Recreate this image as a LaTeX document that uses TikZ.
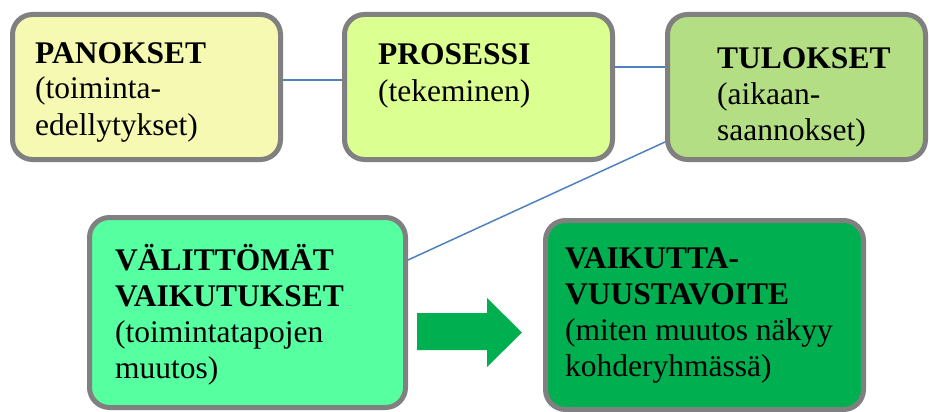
\documentclass[tikz,border=0pt]{standalone}
\usepackage{fontspec}
\setmainfont{Liberation Serif}
\usetikzlibrary{positioning}

\definecolor{boxgray}{RGB}{128,128,128}
\definecolor{linkblue}{RGB}{79,129,189}
\definecolor{panokfill}{RGB}{245,249,177}
\definecolor{prosfill}{RGB}{220,255,146}
\definecolor{tulosfill}{RGB}{180,222,132}
\definecolor{valitfill}{RGB}{86,255,160}
\definecolor{tavoitefill}{RGB}{0,176,80}

\begin{document}
\begin{tikzpicture}[
      x=1pt, y=-1pt,
      box/.style={draw=boxgray, line width=5pt, outer sep=2.5pt, inner sep=0pt, rounded corners=20pt, minimum width=268pt, minimum height=145pt},
      txt/.style={anchor=base west, align=left, inner sep=0pt, font=\fontsize{31.5}{36}\selectfont},
      link/.style={draw=linkblue, line width=1.5pt}
    ]
      \useasboundingbox (0,0) rectangle (929,412);
      \node[box, fill=panokfill, anchor=north west] (panokset) at (10,12) {};
      \node[box, fill=prosfill, right=59pt of panokset] (prosessi) {};
      \node[box, fill=tulosfill, right=50pt of prosessi, minimum width=258pt] (tulokset) {};
      \node[box, fill=valitfill, anchor=north west, minimum width=316pt, minimum height=190pt] (valittomat) at (87,215) {};
      \node[box, fill=tavoitefill, anchor=north west, minimum width=318pt, minimum height=189pt] (tavoite) at (543,218) {};
      % base anchor sits on the last line
      \node[txt] (panokset-t) at ([shift={(25,123)}]panokset.north west) {\textbf{PANOKSET}\\(toiminta-\\edellytykset)};
      \node[txt] (prosessi-t) at ([shift={(36,89)}]prosessi.north west) {\textbf{PROSESSI}\\(tekeminen)};
      \node[txt] (tulokset-t) at ([shift={(52,128)}]tulokset.north west) {\textbf{TULOKSET}\\(aikaan-\\saannokset)};
      \node[txt] (valittomat-t) at ([shift={(28,163)}]valittomat.north west) {\textbf{VÄLITTÖMÄT}\\\textbf{VAIKUTUKSET}\\(toimintatapojen\\muutos)};
      \node[txt] (tavoite-t) at ([shift={(22,158)}]tavoite.north west) {\textbf{VAIKUTTA-}\\\textbf{VUUSTAVOITE}\\(miten muutos näkyy\\kohderyhmässä)};
      \draw[link] ([yshift=7pt]panokset.east) -- ([yshift=7pt]prosessi.west);
      \draw[link] ([yshift=20pt]prosessi.east) -- ([yshift=20pt]tulokset.west);
      \draw[link] ([yshift=-55pt]tulokset.west) -- ([yshift=52.5pt]valittomat.east);
      % block arrow between the two lower boxes
      \fill[tavoitefill] (417,313) -- (487,313) -- (487,298) -- (522,332.5) -- (487,367) -- (487,350) -- (417,350) -- cycle;
    \end{tikzpicture}
\end{document}
